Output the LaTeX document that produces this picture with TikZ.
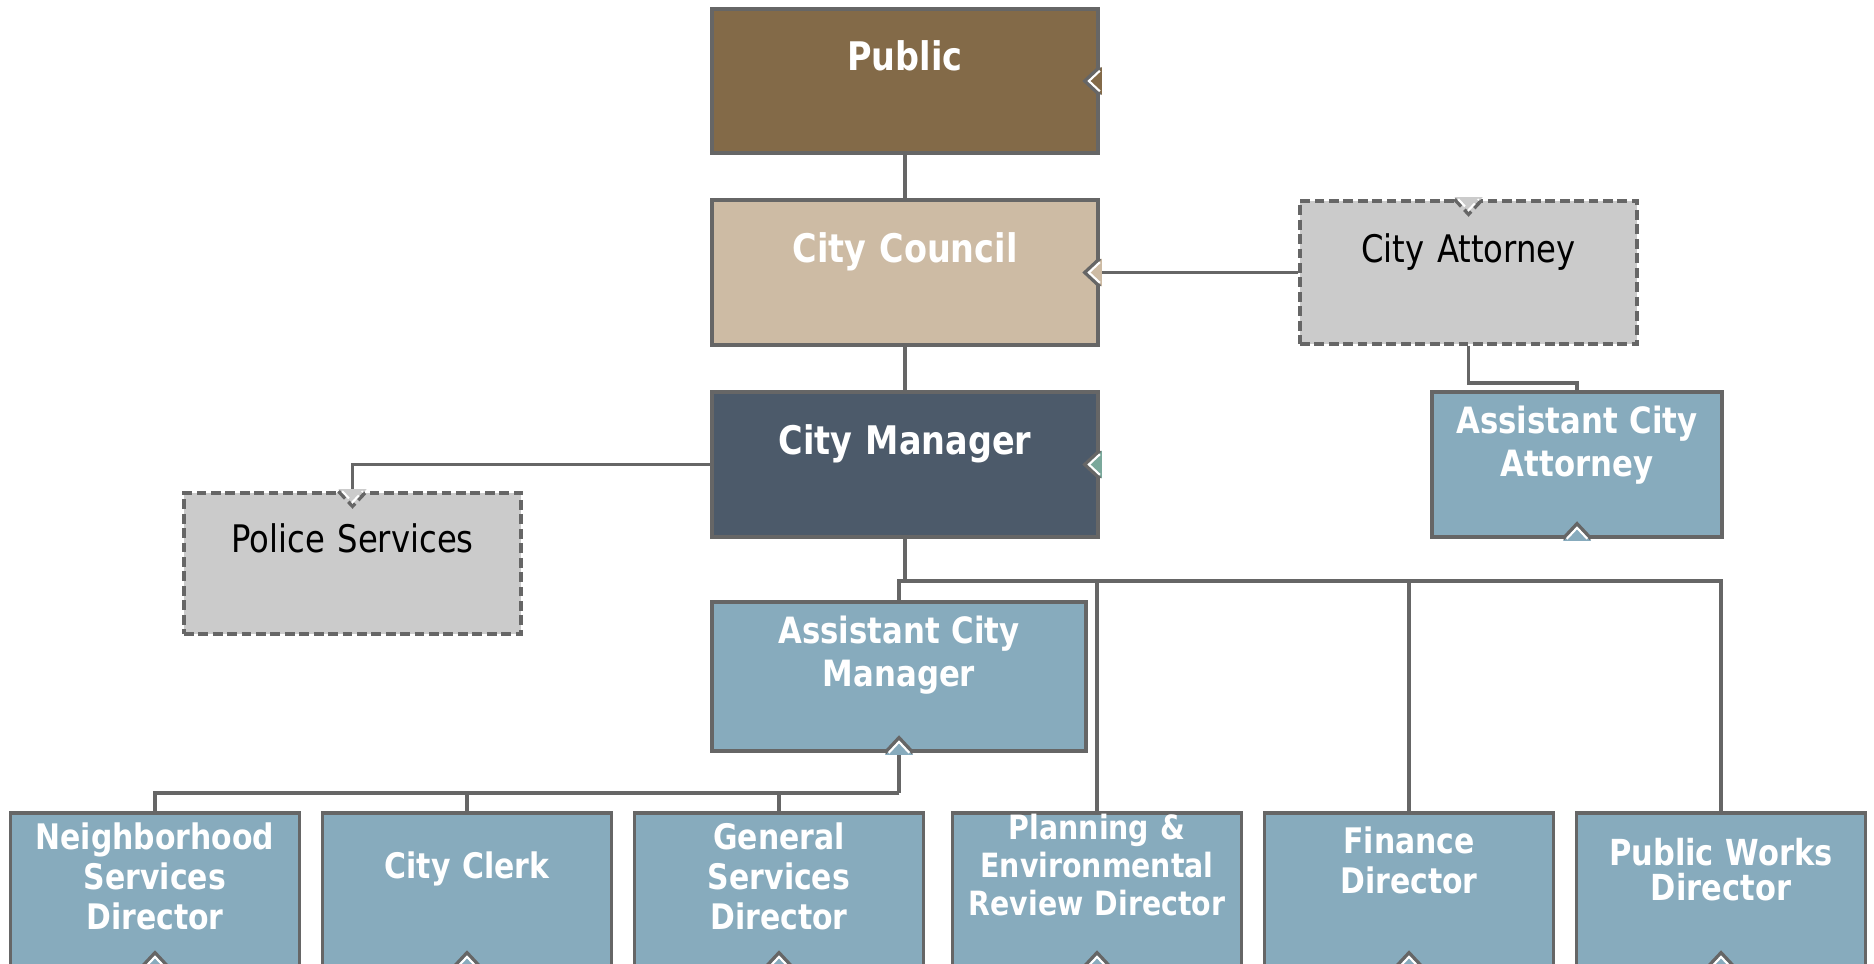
\documentclass[tikz,border=0pt]{standalone}
\usepackage{fontspec}
\setmainfont{DejaVu Sans}[FakeStretch=0.85]
\usetikzlibrary{calc}
\definecolor{linegrey}{RGB}{102,102,102}
\definecolor{publicbrown}{RGB}{131,106,72}
\definecolor{counciltan}{RGB}{205,187,164}
\definecolor{managerslate}{RGB}{76,90,106}
\definecolor{staffblue}{RGB}{135,171,189}
\definecolor{outsidegrey}{RGB}{203,203,203}
\definecolor{markgreen}{RGB}{122,168,155}

\tikzset{
  orgbox/.style={draw=linegrey, line width=1pt, inner sep=0pt, align=center},
  dashbox/.style={orgbox, fill=outsidegrey, dash pattern=on 2.8pt off 1.3pt},
  staffbox/.style={orgbox, fill=staffblue},
  boxdim/.style n args={4}{minimum width=#1, text width=#1, minimum height=#2, text height=#3, text depth=#4},
  toptxt/.style={text=white, font=\fontsize{11.2}{13}\selectfont\bfseries},
  asstxt/.style={text=white, font=\fontsize{10.3}{12.5}\selectfont\bfseries},
  lowtxt/.style={text=white, font=\fontsize{10}{11.4}\selectfont\bfseries},
  normtxt/.style={text=black, font=\fontsize{10.8}{12.5}\selectfont},
  link/.style={draw=linegrey, line width=1pt},
  notchline/.style={draw=linegrey, line width=1pt},
  notchlite/.style={draw=white, line width=0.6pt}
}

\begin{document}
\begin{tikzpicture}[x=0.01cm, y=-0.01cm]
  \useasboundingbox (0,0) rectangle (1874,963);
  \clip (0,0) rectangle (1874,963);
  \fill[white] (0,0) rectangle (1874,963);

  % top of the chart
  \node[orgbox, fill=publicbrown, toptxt, boxdim={3.86cm}{1.44cm}{0.61cm}{0.83cm}] (public) at (905,81) {Public};
  \node[orgbox, fill=counciltan, toptxt, boxdim={3.86cm}{1.45cm}{0.62cm}{0.83cm}] (council) at (905,272.5) {City Council};
  \node[orgbox, fill=managerslate, toptxt, boxdim={3.86cm}{1.45cm}{0.62cm}{0.83cm}] (manager) at (905,464.5) {City Manager};

  % legal side
  \node[dashbox, normtxt, boxdim={3.37cm}{1.43cm}{0.61cm}{0.82cm}] (attorney) at (1468.5,272.5) {City Attorney};
  \node[staffbox, asstxt, boxdim={2.90cm}{1.45cm}{0.41cm}{1.04cm}] (asstattorney) at (1577,464.5) {Assistant City\\Attorney};

  % police and assistant manager
  \node[dashbox, normtxt, boxdim={3.37cm}{1.41cm}{0.59cm}{0.82cm}] (police) at (352.5,563.5) {Police Services};
  \node[staffbox, asstxt, boxdim={3.74cm}{1.49cm}{0.41cm}{1.08cm}] (asstmanager) at (899,676.5) {Assistant City\\Manager};

  % directors
  \node[staffbox, lowtxt, boxdim={2.89cm}{1.53cm}{0.36cm}{1.17cm}] (neighborhood) at (155,889.5) {Neighborhood\\Services\\Director};
  \node[staffbox, lowtxt, boxdim={2.89cm}{1.53cm}{0.65cm}{0.88cm}] (clerk) at (467,889.5) {City Clerk};
  \node[staffbox, lowtxt, boxdim={2.89cm}{1.53cm}{0.36cm}{1.17cm}] (general) at (779,889.5) {General\\Services\\Director};
  \node[staffbox, text=white, font=\fontsize{9.5}{10.8}\selectfont\bfseries, boxdim={2.89cm}{1.53cm}{0.27cm}{1.26cm}] (planning) at (1097,889.5) {Planning \&\\Environmental\\Review Director};
  \node[staffbox, lowtxt, boxdim={2.89cm}{1.53cm}{0.40cm}{1.13cm}] (finance) at (1409,889.5) {Finance\\Director};
  \node[staffbox, text=white, font=\fontsize{10.2}{10}\selectfont\bfseries, boxdim={2.89cm}{1.53cm}{0.52cm}{1.01cm}] (publicworks) at (1721,889.5) {Public Works\\Director};

  % connectors
  \draw[link] (public.south) -- (council.north);
  \draw[link] (council.south) -- (manager.north);
  \draw[link] (attorney.west) -- (council.east);
  \draw[link] (attorney.south) -- ++(0,37) -| (asstattorney.north);
  \draw[link] (manager.west) -| (police.north);
  \draw[link] (manager.south) -- ++(0,42) coordinate (mgrbus);
  \foreach \n in {asstmanager, planning, finance, publicworks}
    \draw[link] (mgrbus) -| (\n.north);
  \draw[link] (asstmanager.south) -- ++(0,40) coordinate (acmbus);
  \foreach \n in {neighborhood, clerk, general}
    \draw[link] (acmbus) -| (\n.north);

  % notches on the right side
  \foreach \n/\c in {public/publicbrown, council/counciltan, manager/markgreen} {
    \fill[\c] ($(\n.east)+(2,-14)$) -- ($(\n.east)+(-15,0)$) -- ($(\n.east)+(2,14)$) -- cycle;
    \draw[notchline] ($(\n.east)+(0,-14)$) -- ++(-15,14) -- ++(15,14);
    \draw[notchlite] ($(\n.east)+(0,-10.3)$) -- ++(-11,10.3) -- ++(11,10.3);
  }
  % notches on the top of the dashed boxes
  \foreach \n in {attorney, police} {
    \fill[outsidegrey] ($(\n.north)+(-14,-2)$) -- ($(\n.north)+(0,15)$) -- ($(\n.north)+(14,-2)$) -- cycle;
    \draw[notchline, dash pattern=on 2.8pt off 1.3pt] ($(\n.north)+(-14,0)$) -- ++(14,15) -- ++(14,-15);
    \draw[notchlite, dash pattern=on 2.8pt off 1.3pt] ($(\n.north)+(-10.3,0)$) -- ++(10.3,11) -- ++(10.3,-11);
  }
  % notches on the bottom of the staff boxes
  \foreach \n in {asstattorney, asstmanager, neighborhood, clerk, general, planning, finance, publicworks} {
    \fill[staffblue] ($(\n.south)+(-14,2)$) -- ($(\n.south)+(0,-15)$) -- ($(\n.south)+(14,2)$) -- cycle;
    \draw[notchline] ($(\n.south)+(-14,0)$) -- ++(14,-15) -- ++(14,15);
    \draw[notchlite] ($(\n.south)+(-10.3,0)$) -- ++(10.3,-11) -- ++(10.3,11);
  }
\end{tikzpicture}
\end{document}
